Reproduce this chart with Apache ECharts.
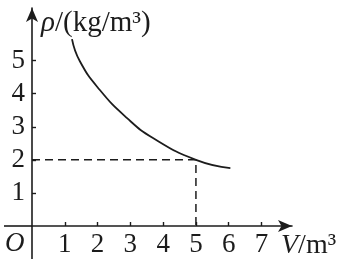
<!DOCTYPE html>
<html>
<head>
<meta charset="utf-8">
<script src="https://cdn.jsdelivr.net/npm/echarts@6/dist/echarts.min.js"></script>
<style>html,body{margin:0;padding:0;background:#fff}#c{width:342px;height:262px}</style>
</head>
<body>
<div id="c"></div>
<script>
// Data
var curveV   = [1.22, 1.46, 2.07, 2.90, 3.69, 5.00, 6.05];
var curveRho = [5.65, 4.98, 4.11, 3.26, 2.66, 2.00, 1.75];
var guideV   = [0, 5, 5];
var guideRho = [2, 2, 0];
var xTicks = [1, 2, 3, 4, 5, 6, 7];
var yTicks = [1, 2, 3, 4, 5];
var xTitle = '{i|V}/m³';
var yTitle = '{i|ρ}/(kg/m³)';
var originLabel = 'O';

var ink = '#1c1c1c';
var serif = '"Liberation Serif","DejaVu Serif",serif';

function pairs(a, b) { return a.map(function (v, i) { return [v, b[i]]; }); }
function shown(list) {
  return function (v) { return list.indexOf(v) >= 0 ? String(v) : ''; };
}

var G = {left: 32, right: 50, top: 8, bottom: 36};

var chart = echarts.init(document.getElementById('c'), null, {renderer: 'canvas'});
chart.setOption({
  animation: false,
  backgroundColor: '#fff',
  grid: {left: G.left, right: G.right, top: G.top, bottom: G.bottom, containLabel: false, outerBoundsMode: 'none'},
  xAxis: {
    type: 'value', min: 0, max: 7.93, interval: 1,
    axisLine: {show: true, onZero: false, symbol: ['none', 'arrow'], symbolSize: [9, 14],
      lineStyle: {color: ink, width: 1.6}},
    axisTick: {show: true, inside: true, length: 4, customValues: xTicks, lineStyle: {color: ink, width: 1.4}},
    axisLabel: {show: true, hideOverlap: false, showMinLabel: true, showMaxLabel: true,
      margin: 5, fontFamily: serif, fontSize: 27, color: ink, formatter: shown(xTicks)},
    splitLine: {show: false}
  },
  yAxis: {
    type: 'value', min: 0, max: 6.59, interval: 1,
    axisLine: {show: true, onZero: false, symbol: ['none', 'arrow'], symbolSize: [9, 14],
      lineStyle: {color: ink, width: 1.6}},
    axisTick: {show: true, inside: true, length: 4, customValues: yTicks, lineStyle: {color: ink, width: 1.4}},
    axisLabel: {show: true, hideOverlap: false, showMinLabel: true, showMaxLabel: true,
      margin: 7, fontFamily: serif, fontSize: 27, color: ink, formatter: shown(yTicks)},
    splitLine: {show: false}
  },
  graphic: [{
    type: 'line', silent: true,
    shape: {x1: 4, y1: 262 - G.bottom, x2: G.left, y2: 262 - G.bottom},
    style: {stroke: ink, lineWidth: 1.6}
  }, {
    type: 'line', silent: true,
    shape: {x1: G.left, y1: 262 - G.bottom, x2: G.left, y2: 259},
    style: {stroke: ink, lineWidth: 1.6}
  }, {
    type: 'text', left: 5, top: 230,
    style: {text: originLabel, fontFamily: serif, fontStyle: 'italic', fontSize: 27, fill: ink}
  }, {
    type: 'text', left: 41, top: 9,
    style: {text: yTitle, fontFamily: serif, fontSize: 29, fill: ink,
      rich: {i: {fontStyle: 'italic', fontFamily: serif, fontSize: 29, fill: ink}}}
  }, {
    type: 'text', left: 281, top: 232,
    style: {text: xTitle, fontFamily: serif, fontSize: 28, fill: ink,
      rich: {i: {fontStyle: 'italic', fontFamily: serif, fontSize: 28, fill: ink}}}
  }],
  series: [{
    type: 'line', data: pairs(curveV, curveRho), smooth: 0.5, showSymbol: false, symbol: 'none',
    lineStyle: {color: ink, width: 1.8}
  }, {
    type: 'line', data: pairs(guideV, guideRho), showSymbol: false, symbol: 'none',
    lineStyle: {color: ink, width: 1.5, type: [8, 5]}
  }]
});
</script>
</body>
</html>
